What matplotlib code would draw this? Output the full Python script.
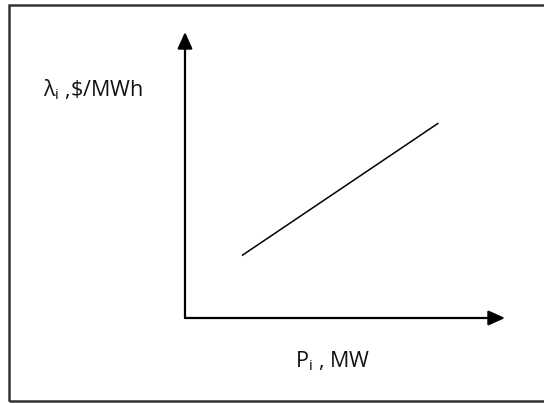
import matplotlib
matplotlib.use("Agg")
import matplotlib.pyplot as plt
from matplotlib.patches import Rectangle

# marginal cost line (arbitrary units, axes run 0..10)
power = [1.8, 7.9]
lam = [2.2, 6.8]

x_label = r"P$_\mathrm{i}$ , MW"
y_label = r"$\mathrm{\lambda}_\mathrm{i}$ ,\$/MWh"

plt.rcParams['font.family'] = ['Open Sans', 'DejaVu Sans']
plt.rcParams['mathtext.fontset'] = 'custom'
plt.rcParams['mathtext.rm'] = 'Open Sans'
plt.rcParams['mathtext.it'] = 'Open Sans'

W, H = 544, 403
fig = plt.figure(figsize=(W / 100, H / 100), dpi=100)
fig.patch.set_facecolor('white')

# outer frame (right side runs off the picture)
fig.patches.append(Rectangle((9 / W, 1 - 401 / H), 1.2, (401 - 5) / H,
                             transform=fig.transFigure, fill=False,
                             edgecolor='#333333', lw=1.8))

# axes with origin at pixel (185, 318)
ax = fig.add_axes([185 / W, 1 - 318 / H, 320 / W, 286 / H])
ax.set_xlim(0, 10)
ax.set_ylim(0, 10)
ax.axis('off')

arrow = dict(arrowstyle='-|>,head_length=1.0,head_width=0.45', lw=1.6,
             color='black', shrinkA=0, shrinkB=0)
ax.annotate('', xy=(1, 0), xytext=(0, 0), xycoords='axes fraction',
            arrowprops=arrow, annotation_clip=False)
ax.annotate('', xy=(0, 1), xytext=(0, 0), xycoords='axes fraction',
            arrowprops=arrow, annotation_clip=False)

ax.plot(power, lam, color='black', lw=1.1)

fig.text(43 / W, 1 - 96 / H, y_label, fontsize=15.5, color='#111111',
         ha='left', va='baseline')
fig.text(295 / W, 1 - 367 / H, x_label, fontsize=15.5, color='#111111',
         ha='left', va='baseline')

fig.savefig('out.png', dpi=100)
